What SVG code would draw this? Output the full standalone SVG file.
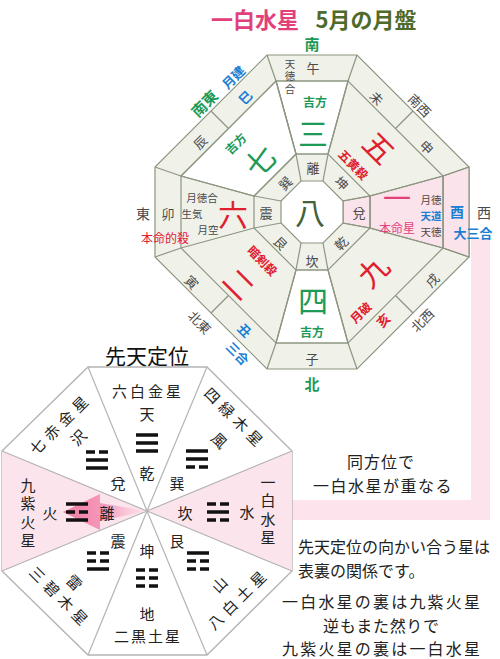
<svg xmlns="http://www.w3.org/2000/svg" xmlns:xlink="http://www.w3.org/1999/xlink" width="500" height="659" viewBox="0 0 500 659">
<style>
text{font-family:'Noto Sans CJK JP','Noto Sans CJK SC',sans-serif;text-anchor:middle;dominant-baseline:central}
.vt{writing-mode:vertical-rl}
.ring{fill:#f0f2ea;stroke:#8c9680;stroke-width:1.2}
.ln{stroke:#8c9680;stroke-width:1.2;fill:none}
.wc{fill:#ffffff;stroke:#8c9680;stroke-width:1.2}
.pc{fill:#fbe3ec;stroke:#8c9680;stroke-width:1.2}
.gr{fill:#4a4a4a;font-size:13px}
.sm{fill:#4a4a4a;font-size:10.5px}
.grn{fill:#1e9a56;font-weight:bold}
.blu{fill:#1a7fd4;font-weight:bold}
.red{fill:#e0202e}
.redb{fill:#e0202e;font-weight:bold;font-size:12px}
.big{font-size:30px}
.bk{fill:#222;font-size:15px}
.bline{stroke:#b4b4b4;stroke-width:1.2;fill:none}
.bar{fill:#111}
.note{fill:#222;font-size:16px}
</style>
<defs>
<rect id="S" class="bar" x="-11" y="-1.75" width="22" height="3.5"/>
<g id="B"><rect class="bar" x="-11" y="-1.75" width="9" height="3.5"/><rect class="bar" x="2" y="-1.75" width="9" height="3.5"/></g>
<g id="t-qian"><use xlink:href="#S" y="-8"/><use xlink:href="#S"/><use xlink:href="#S" y="8"/></g>
<g id="t-dui"><use xlink:href="#B" y="-8"/><use xlink:href="#S"/><use xlink:href="#S" y="8"/></g>
<g id="t-li"><use xlink:href="#S" y="-8"/><use xlink:href="#B"/><use xlink:href="#S" y="8"/></g>
<g id="t-zhen"><use xlink:href="#B" y="-8"/><use xlink:href="#B"/><use xlink:href="#S" y="8"/></g>
<g id="t-xun"><use xlink:href="#S" y="-8"/><use xlink:href="#S"/><use xlink:href="#B" y="8"/></g>
<g id="t-kan"><use xlink:href="#B" y="-8"/><use xlink:href="#S"/><use xlink:href="#B" y="8"/></g>
<g id="t-gen"><use xlink:href="#S" y="-8"/><use xlink:href="#B"/><use xlink:href="#B" y="8"/></g>
<g id="t-kun"><use xlink:href="#B" y="-8"/><use xlink:href="#B"/><use xlink:href="#B" y="8"/></g>
<linearGradient id="arrowGrad" x1="0" y1="0" x2="1" y2="0">
<stop offset="0" stop-color="#f07aa3"/>
<stop offset="0.5" stop-color="#f59bbb"/>
<stop offset="1" stop-color="#fde0ea" stop-opacity="0.6"/>
</linearGradient>
</defs>

<!-- Title -->
<g id="title">
<text x="255" y="18" style="font-size:22px;font-weight:bold;fill:#e2407a">一白水星</text>
<text x="366" y="18" style="font-size:22px;font-weight:bold;fill:#4f6b2c">5月の月盤</text>
</g>

<!-- pink L band -->
<g id="band">
<rect x="471" y="238" width="19" height="282" fill="#fde3ec"/>
<rect x="290" y="500" width="200" height="20" fill="#fde3ec"/>
</g>

<!-- Top octagon: monthly chart -->
<g id="top-chart">
<polygon class="ring" points="267,55 357,55 469,167 469,257 357,369 267,369 155,257 155,167"/>
<polygon class="wc" points="276,81 348,81 328,154 296,154"/>
<polygon class="wc" points="276,343 348,343 328,270 296,270"/>
<polygon class="wc" points="276,81 181,176 254,196 296,154"/>
<polygon class="pc" points="443,176 469,167 469,257 443,248"/>
<polygon class="pc" points="443,176 443,248 370,228 370,196"/>
<polygon class="pc" points="370,196 370,228 343,223 343,201"/>
<polygon class="ln" points="276,81 348,81 443,176 443,248 348,343 276,343 181,248 181,176"/>
<polygon class="ln" points="296,154 328,154 370,196 370,228 328,270 296,270 254,228 254,196"/>
<polygon class="wc" points="301,181 323,181 343,201 343,223 323,243 301,243 281,223 281,201"/>
<g class="ln">
<line x1="267" y1="55" x2="276" y2="81"/><line x1="357" y1="55" x2="348" y2="81"/>
<line x1="469" y1="167" x2="443" y2="176"/><line x1="469" y1="257" x2="443" y2="248"/>
<line x1="357" y1="369" x2="348" y2="343"/><line x1="267" y1="369" x2="276" y2="343"/>
<line x1="155" y1="257" x2="181" y2="248"/><line x1="155" y1="167" x2="181" y2="176"/>
<line x1="276" y1="81" x2="296" y2="154"/><line x1="348" y1="81" x2="328" y2="154"/>
<line x1="443" y1="176" x2="370" y2="196"/><line x1="443" y1="248" x2="370" y2="228"/>
<line x1="348" y1="343" x2="328" y2="270"/><line x1="276" y1="343" x2="296" y2="270"/>
<line x1="181" y1="248" x2="254" y2="228"/><line x1="181" y1="176" x2="254" y2="196"/>
<line x1="296" y1="154" x2="301" y2="181"/><line x1="328" y1="154" x2="323" y2="181"/>
<line x1="370" y1="196" x2="343" y2="201"/><line x1="370" y1="228" x2="343" y2="223"/>
<line x1="328" y1="270" x2="323" y2="243"/><line x1="296" y1="270" x2="301" y2="243"/>
<line x1="254" y1="228" x2="281" y2="223"/><line x1="254" y1="196" x2="281" y2="201"/>
<line x1="211" y1="111" x2="228.5" y2="128.5"/><line x1="413" y1="111" x2="395.5" y2="128.5"/>
<line x1="211" y1="313" x2="228.5" y2="295.5"/><line x1="413" y1="313" x2="395.5" y2="295.5"/>
</g>

<!-- directions -->
<text class="grn" x="312" y="43" style="font-size:15px">南</text>
<text class="grn" x="312" y="383" style="font-size:15px">北</text>
<text class="gr" x="143" y="213" style="font-size:14px">東</text>
<text class="gr" x="484" y="212" style="font-size:14px">西</text>
<text class="grn" transform="translate(204,103) rotate(-45)" style="font-size:15px">南東</text>
<text class="gr" transform="translate(420,105) rotate(45)">南西</text>
<text class="gr" transform="translate(200,322) rotate(45)">北東</text>
<text class="gr" transform="translate(422,320) rotate(-45)">北西</text>

<!-- branch ring -->
<text class="gr" x="313" y="67">午</text>
<text class="sm vt" x="290" y="77.5" style="letter-spacing:2px">天徳合</text>
<text class="blu" transform="translate(233,77) rotate(-45)" style="font-size:13px">月建</text>
<text class="blu" transform="translate(245,97) rotate(-45)" style="font-size:13px">巳</text>
<text class="gr" transform="translate(200,142) rotate(-45)">辰</text>
<text class="gr" transform="translate(377,98) rotate(45)">未</text>
<text class="gr" transform="translate(427,147) rotate(45)">申</text>
<text class="gr" x="168" y="213">卯</text>
<text class="blu" x="457" y="211" style="font-size:14px">酉</text>
<text class="blu" x="473" y="232" style="font-size:13px">大三合</text>
<text class="gr" transform="translate(192,282) rotate(45)">寅</text>
<text class="blu" transform="translate(245,330) rotate(45)" style="font-size:13px">丑</text>
<text class="blu" transform="translate(238,353) rotate(45)" style="font-size:13px">三合</text>
<text class="gr" x="312" y="358">子</text>
<text class="redb" transform="translate(383,320) rotate(-45)" style="font-size:13px">亥</text>
<text class="gr" transform="translate(432,280) rotate(-45)">戌</text>

<!-- nine star ring -->
<text class="grn" x="315" y="101" style="font-size:12px">吉方</text>
<text class="grn big" x="313" y="132" style="font-weight:normal">三</text>
<text class="grn" transform="translate(235,143) rotate(-45)" style="font-size:12px">吉方</text>
<text class="grn big" transform="translate(259,160) rotate(-45)" style="font-weight:normal">七</text>
<text class="red big" transform="translate(380,147) rotate(45)">五</text>
<text class="redb" transform="translate(354,164) rotate(45)">五黄殺</text>
<text class="red big" x="233" y="213">六</text>
<text class="sm" x="202" y="197">月徳合</text>
<text class="sm" x="192" y="213">生気</text>
<text class="sm" x="208" y="229">月空</text>
<text class="red" x="165" y="237" style="font-size:12px">本命的殺</text>
<text x="397" y="197" style="fill:#e2407a;font-size:28px">一</text>
<text x="397" y="227" style="fill:#e2407a;font-size:12px">本命星</text>
<text class="sm" x="431" y="199">月徳</text>
<text class="blu" x="431" y="215" style="font-size:10.5px">天道</text>
<text class="sm" x="431" y="231">天徳</text>
<text class="redb" transform="translate(263,260) rotate(45)">暗剣殺</text>
<text class="red big" transform="translate(240,283) rotate(45)">二</text>
<text class="grn big" x="313" y="299" style="font-weight:normal">四</text>
<text class="grn" x="312" y="331" style="font-size:12px">吉方</text>
<text class="red big" transform="translate(372,270) rotate(-45)">九</text>
<text class="redb" transform="translate(360,312) rotate(-45)">月破</text>

<!-- trigram ring -->
<text class="gr" x="313" y="167">離</text>
<text class="gr" transform="translate(285,183) rotate(-45)">巽</text>
<text class="gr" transform="translate(342,183) rotate(45)">坤</text>
<text class="gr" x="266" y="212">震</text>
<text class="gr" x="359" y="212">兌</text>
<text class="gr" transform="translate(281,243) rotate(45)">艮</text>
<text class="gr" transform="translate(341,243) rotate(-45)">乾</text>
<text class="gr" x="312" y="260">坎</text>
<text x="310" y="211" style="font-size:30px;fill:#45603a">八</text>
</g>

<!-- Bottom octagon: 先天定位 -->
<g id="xiantian">
<text x="147" y="355" style="font-size:21px;fill:#111">先天定位</text>
<polygon points="88,367 207,367 292,451 292,571 207,655 88,655 2,571 2,451" fill="#ffffff" stroke="#b4b4b4" stroke-width="1.4"/>
<polygon points="2,451 2,571 147,511" fill="#fce4ec"/>
<polygon points="292,451 292,571 147,511" fill="#fce4ec"/>
<g class="bline">
<line x1="147" y1="511" x2="88" y2="367"/><line x1="147" y1="511" x2="207" y2="367"/>
<line x1="147" y1="511" x2="292" y2="451"/><line x1="147" y1="511" x2="292" y2="571"/>
<line x1="147" y1="511" x2="207" y2="655"/><line x1="147" y1="511" x2="88" y2="655"/>
<line x1="147" y1="511" x2="2" y2="571"/><line x1="147" y1="511" x2="2" y2="451"/>
</g>
<polygon points="63,512 100,494 100,503 147,511 100,521 100,530" fill="url(#arrowGrad)"/>

<use xlink:href="#t-qian" x="147" y="443"/>
<use xlink:href="#t-dui" x="97" y="460"/>
<use xlink:href="#t-li" x="77" y="512"/>
<use xlink:href="#t-zhen" x="98" y="561"/>
<use xlink:href="#t-kun" x="147" y="578"/>
<use xlink:href="#t-gen" x="198" y="561"/>
<use xlink:href="#t-kan" x="218" y="512"/>
<use xlink:href="#t-xun" x="197" y="459"/>

<text class="bk" x="148" y="390" style="letter-spacing:3px">六白金星</text>
<text class="bk" x="147" y="413">天</text>
<text class="bk" x="147" y="472">乾</text>
<text class="bk" transform="translate(60,423) rotate(-45)" style="letter-spacing:5px">七赤金星</text>
<text class="bk" transform="translate(78,437) rotate(-45)">沢</text>
<text class="bk" x="118" y="482">兌</text>
<text class="bk vt" x="28" y="514.5" style="letter-spacing:3.5px">九紫火星</text>
<text class="bk" x="50" y="512">火</text>
<text class="bk" x="107" y="512">離</text>
<text class="bk" transform="translate(61,597) rotate(45)" style="letter-spacing:5px">三碧木星</text>
<text class="bk" transform="translate(75,582) rotate(45)">雷</text>
<text class="bk" x="118" y="540">震</text>
<text class="bk" x="147" y="550">坤</text>
<text class="bk" x="147" y="613">地</text>
<text class="bk" x="148" y="635" style="letter-spacing:2px">二黒土星</text>
<text class="bk" x="177" y="540">艮</text>
<text class="bk" transform="translate(219,584) rotate(-45)">山</text>
<text class="bk" transform="translate(238,598) rotate(-45)" style="letter-spacing:5px">八白土星</text>
<text class="bk" x="185" y="512">坎</text>
<text class="bk" x="247" y="511">水</text>
<text class="bk vt" x="268" y="511.5" style="letter-spacing:3.5px">一白水星</text>
<text class="bk" x="177" y="482">巽</text>
<text class="bk" transform="translate(220,440) rotate(45)">風</text>
<text class="bk" transform="translate(236,418) rotate(45)" style="letter-spacing:5px">四緑木星</text>
</g>

<!-- notes -->
<g id="notes">
<text class="note" x="381" y="461" style="letter-spacing:1px">同方位で</text>
<text class="note" x="383" y="485" style="letter-spacing:1.5px">一白水星が重なる</text>
<text class="note" x="298" y="545.5" style="text-anchor:start" textLength="192" lengthAdjust="spacing">先天定位の向かい合う星は</text>
<text class="note" x="298" y="569.5" style="text-anchor:start">表裏の関係です。</text>
<text class="note" x="381" y="601" textLength="198" lengthAdjust="spacing">一白水星の裏は九紫火星</text>
<text class="note" x="381" y="624.5" textLength="116" lengthAdjust="spacing">逆もまた然りで</text>
<text class="note" x="381" y="648" textLength="198" lengthAdjust="spacing">九紫火星の裏は一白水星</text>
</g>
</svg>
